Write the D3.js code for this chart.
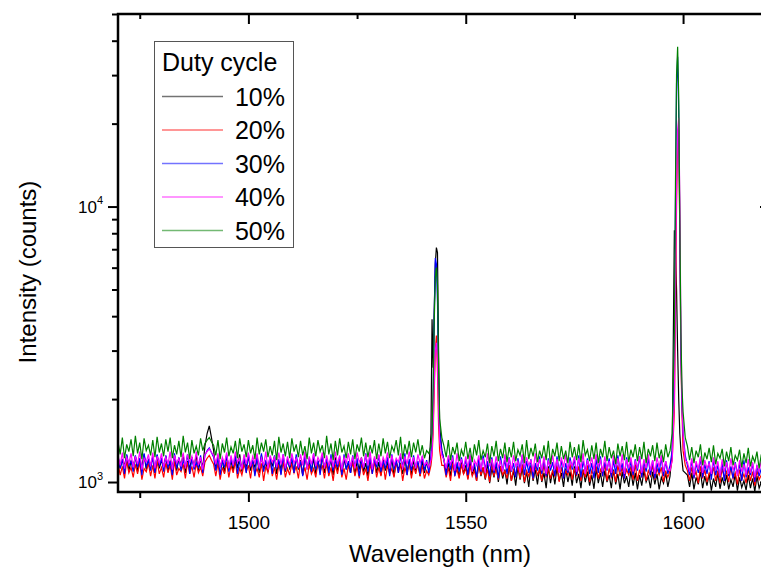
<!DOCTYPE html>
<html>
<head>
<meta charset="utf-8">
<script src="https://cdn.jsdelivr.net/npm/d3@7"></script>
<style>
  body { margin: 0; background: #fff; }
  svg text { font-family: "Liberation Sans", Arial, sans-serif; fill: #000; }
</style>
</head>
<body>
<svg id="chart" width="761" height="573"></svg>
<script>
// wavelength grid (nm): whole nm, half nm and a few quarter nm samples on the peaks
const wholeWavelengths = d3.range(1470, 1621);
const halfWavelengths = d3.range(1470.5, 1620, 1);
const quarterWavelengths = [1542.25, 1542.75, 1543.25, 1543.75, 1598.25, 1598.75, 1599.25, 1599.75];

const dutyCycles = ['10%', '20%', '30%', '40%', '50%'];
const lineColors = ['#000000', '#ff0000', '#0000ff', '#ff00ff', '#008000'];

const xTicksMajor = [1500, 1550, 1600];
const xTicksMinor = [1475, 1525, 1575];
const yTicksMajor = [1000, 10000];
const yTicksMinor = [2000, 3000, 4000, 5000, 6000, 7000, 8000, 9000, 20000, 30000, 40000, 50000];

// intensity (counts) at 1470, 1471 ... 1620 nm
const whole10 = [
    1230, 1200, 1250, 1190, 1240, 1210, 1260, 1200, 1230, 1250,
    1200, 1240, 1190, 1250, 1220, 1260, 1190, 1230, 1250, 1210,
    1350, 1600, 1300, 1240, 1200, 1250, 1190, 1230, 1260, 1200,
    1240, 1190, 1230, 1250, 1180, 1220, 1240, 1190, 1230, 1210,
    1180, 1230, 1200, 1240, 1170, 1220, 1190, 1240, 1180, 1210,
    1230, 1180, 1210, 1170, 1220, 1190, 1230, 1170, 1200, 1220,
    1180, 1210, 1170, 1220, 1190, 1160, 1210, 1180, 1200, 1170,
    1190, 1180, 1500, 6200, 1600, 1200, 1170, 1200, 1150, 1180,
    1150, 1190, 1140, 1170, 1130, 1180, 1120, 1160, 1140, 1110,
    1150, 1100, 1140, 1120, 1090, 1150, 1110, 1130, 1080, 1140,
    1100, 1130, 1080, 1120, 1090, 1140, 1070, 1110, 1090, 1060,
    1120, 1080, 1100, 1060, 1110, 1070, 1090, 1050, 1100, 1080,
    1060, 1100, 1050, 1090, 1070, 1040, 1080, 1050, 8200, 2000,
    1100, 1060, 1080, 1040, 1090, 1050, 1070, 1030, 1080, 1040,
    1060, 1020, 1070, 1040, 1010, 1060, 1030, 1050, 1000, 1040,
    1020
];
const whole20 = [
    1170, 1140, 1190, 1130, 1160, 1180, 1120, 1170, 1150, 1190,
    1130, 1170, 1150, 1190, 1120, 1160, 1180, 1140, 1170, 1130,
    1180, 1250, 1160, 1170, 1130, 1180, 1150, 1190, 1120, 1160,
    1150, 1180, 1120, 1170, 1140, 1190, 1130, 1160, 1180, 1120,
    1170, 1140, 1190, 1130, 1160, 1120, 1180, 1150, 1170, 1130,
    1160, 1190, 1120, 1150, 1180, 1140, 1170, 1120, 1160, 1190,
    1130, 1170, 1150, 1120, 1180, 1160, 1130, 1190, 1140, 1170,
    1150, 1100, 1150, 3000, 1300, 1150, 1130, 1170, 1110, 1160,
    1120, 1150, 1100, 1160, 1130, 1110, 1170, 1120, 1140, 1100,
    1150, 1110, 1140, 1160, 1100, 1130, 1150, 1110, 1160, 1120,
    1100, 1150, 1130, 1100, 1160, 1120, 1140, 1110, 1150, 1100,
    1140, 1110, 1160, 1120, 1100, 1150, 1130, 1110, 1140, 1160,
    1110, 1140, 1100, 1150, 1120, 1130, 1100, 1100, 1800, 19000,
    1300, 1100, 1130, 1090, 1140, 1110, 1080, 1130, 1100, 1120,
    1090, 1130, 1080, 1110, 1070, 1120, 1090, 1100, 1060, 1110,
    1080
];
const whole30 = [
    1240, 1210, 1260, 1190, 1250, 1220, 1270, 1200, 1240, 1260,
    1210, 1250, 1190, 1270, 1230, 1200, 1260, 1220, 1180, 1250,
    1250, 1330, 1230, 1240, 1200, 1260, 1210, 1250, 1190, 1230,
    1260, 1200, 1240, 1270, 1190, 1230, 1250, 1210, 1260, 1200,
    1230, 1260, 1190, 1250, 1220, 1270, 1200, 1240, 1210, 1260,
    1200, 1240, 1260, 1190, 1250, 1220, 1200, 1270, 1230, 1210,
    1250, 1190, 1230, 1260, 1200, 1240, 1270, 1210, 1250, 1190,
    1240, 1200, 1250, 6500, 1500, 1200, 1220, 1250, 1180, 1230,
    1200, 1240, 1170, 1220, 1250, 1190, 1230, 1180, 1240, 1200,
    1230, 1170, 1220, 1250, 1190, 1210, 1170, 1240, 1200, 1220,
    1180, 1240, 1200, 1170, 1230, 1210, 1250, 1190, 1220, 1170,
    1210, 1240, 1180, 1220, 1200, 1250, 1170, 1230, 1190, 1210,
    1240, 1180, 1220, 1200, 1170, 1230, 1190, 1150, 3000, 22000,
    1500, 1150, 1200, 1170, 1220, 1160, 1190, 1210, 1150, 1180,
    1200, 1140, 1180, 1160, 1200, 1130, 1170, 1150, 1120, 1160,
    1140
];
const whole40 = [
    1250, 1280, 1230, 1270, 1240, 1290, 1220, 1260, 1280, 1240,
    1270, 1230, 1290, 1250, 1220, 1280, 1260, 1240, 1290, 1230,
    1260, 1320, 1250, 1270, 1230, 1280, 1250, 1290, 1220, 1260,
    1280, 1240, 1270, 1220, 1290, 1250, 1230, 1280, 1260, 1240,
    1270, 1220, 1260, 1290, 1240, 1270, 1230, 1280, 1250, 1220,
    1290, 1250, 1230, 1270, 1240, 1280, 1220, 1260, 1290, 1240,
    1260, 1230, 1280, 1250, 1220, 1270, 1240, 1290, 1230, 1260,
    1240, 1180, 1200, 3000, 1400, 1200, 1250, 1220, 1270, 1210,
    1240, 1260, 1200, 1250, 1220, 1270, 1210, 1240, 1190, 1260,
    1220, 1250, 1190, 1260, 1230, 1200, 1270, 1210, 1240, 1190,
    1250, 1210, 1230, 1260, 1190, 1240, 1220, 1270, 1200, 1230,
    1260, 1200, 1240, 1190, 1250, 1220, 1260, 1210, 1230, 1190,
    1240, 1210, 1260, 1200, 1230, 1250, 1190, 1100, 2000, 21000,
    1500, 1180, 1220, 1190, 1240, 1200, 1170, 1230, 1190, 1210,
    1180, 1220, 1170, 1200, 1160, 1210, 1180, 1150, 1200, 1160,
    1190
];
const whole50 = [
    1400, 1450, 1370, 1430, 1470, 1390, 1440, 1360, 1420, 1460,
    1380, 1430, 1450, 1360, 1410, 1470, 1390, 1420, 1350, 1440,
    1380, 1450, 1360, 1420, 1380, 1450, 1340, 1410, 1440, 1370,
    1420, 1360, 1450, 1390, 1430, 1350, 1410, 1460, 1380, 1400,
    1440, 1370, 1410, 1350, 1450, 1390, 1420, 1360, 1470, 1380,
    1410, 1440, 1350, 1400, 1430, 1370, 1450, 1390, 1360, 1420,
    1380, 1440, 1400, 1350, 1420, 1460, 1370, 1410, 1390, 1430,
    1360, 1300, 1350, 5500, 1700, 1350, 1420, 1340, 1390, 1310,
    1400, 1330, 1370, 1420, 1300, 1380, 1350, 1410, 1320, 1390,
    1340, 1400, 1310, 1370, 1420, 1330, 1380, 1300, 1360, 1410,
    1320, 1390, 1350, 1300, 1400, 1340, 1370, 1420, 1310, 1360,
    1390, 1320, 1410, 1340, 1300, 1380, 1350, 1400, 1310, 1370,
    1340, 1400, 1320, 1360, 1390, 1310, 1370, 1300, 3500, 25000,
    1800, 1350, 1340, 1300, 1370, 1280, 1330, 1360, 1270, 1320,
    1290, 1340, 1250, 1310, 1270, 1330, 1240, 1290, 1260, 1220,
    1280
];

// intensity (counts) at 1470.5, 1471.5 ... 1619.5 nm
const half10 = [
    1120, 1150, 1100, 1140, 1090, 1130, 1110, 1150, 1080, 1120,
    1140, 1090, 1130, 1100, 1150, 1080, 1120, 1140, 1100, 1130,
    1500, 1450, 1110, 1140, 1080, 1130, 1100, 1120, 1090, 1140,
    1100, 1130, 1080, 1120, 1090, 1140, 1070, 1110, 1090, 1120,
    1080, 1110, 1060, 1120, 1090, 1070, 1110, 1080, 1120, 1060,
    1100, 1070, 1120, 1080, 1060, 1110, 1090, 1050, 1100, 1080,
    1060, 1100, 1080, 1050, 1110, 1070, 1090, 1060, 1100, 1050,
    1080, 1110, 2600, 6800, 1300, 1080, 1050, 1090, 1040, 1070,
    1030, 1060, 1010, 1050, 1020, 990, 1040, 1000, 1030, 980,
    1010, 970, 1020, 990, 960, 1010, 980, 1000, 950, 990,
    980, 1010, 960, 1000, 970, 990, 950, 1000, 970, 945,
    990, 960, 1000, 950, 980, 940, 990, 960, 970, 940,
    970, 1000, 950, 980, 940, 990, 960, 1300, 5000, 1300,
    1080, 960, 940, 980, 950, 970, 930, 960, 945, 970,
    940, 960, 930, 955, 935, 950, 925, 950, 935, 930
];
const half20 = [
    1060, 1030, 1080, 1040, 1070, 1020, 1090, 1050, 1030, 1070,
    1040, 1080, 1020, 1060, 1090, 1030, 1070, 1040, 1080, 1050,
    1220, 1200, 1050, 1020, 1070, 1040, 1080, 1030, 1060, 1090,
    1030, 1070, 1040, 1010, 1080, 1050, 1020, 1070, 1040, 1060,
    1080, 1030, 1060, 1020, 1070, 1040, 1090, 1030, 1050, 1010,
    1070, 1040, 1020, 1080, 1050, 1030, 1060, 1010, 1070, 1040,
    1050, 1020, 1070, 1040, 1080, 1010, 1060, 1030, 1070, 1050,
    1030, 1060, 1500, 2500, 1150, 1040, 1010, 1060, 1030, 1070,
    1020, 1050, 1010, 1060, 1030, 1000, 1050, 1020, 1060, 1030,
    1010, 1060, 1030, 1000, 1050, 1020, 1060, 1010, 1040, 1030,
    1050, 1000, 1040, 1060, 1020, 1050, 1010, 1040, 1000, 1050,
    1030, 1060, 1010, 1040, 1000, 1050, 1030, 1060, 1020, 1010,
    1040, 1010, 1050, 1020, 1060, 1000, 1040, 1200, 10000, 2800,
    1150, 1010, 1040, 990, 1030, 1000, 1050, 1010, 990, 1030,
    1000, 1030, 980, 1020, 990, 1010, 970, 1020, 990, 1000
];
const half30 = [
    1120, 1070, 1150, 1090, 1130, 1060, 1140, 1100, 1080, 1150,
    1090, 1130, 1060, 1120, 1100, 1140, 1070, 1110, 1130, 1080,
    1300, 1280, 1100, 1060, 1130, 1090, 1140, 1070, 1120, 1080,
    1130, 1050, 1110, 1090, 1140, 1070, 1120, 1060, 1100, 1130,
    1080, 1120, 1050, 1130, 1090, 1110, 1060, 1140, 1080, 1100,
    1130, 1060, 1110, 1080, 1140, 1050, 1120, 1090, 1070, 1130,
    1090, 1120, 1050, 1110, 1080, 1140, 1060, 1100, 1120, 1070,
    1100, 1080, 2000, 4500, 1300, 1060, 1110, 1050, 1090, 1120,
    1060, 1100, 1040, 1090, 1120, 1050, 1080, 1030, 1100, 1070,
    1090, 1040, 1110, 1060, 1080, 1030, 1100, 1070, 1050, 1100,
    1050, 1090, 1030, 1080, 1110, 1060, 1040, 1090, 1070, 1030,
    1080, 1050, 1100, 1040, 1070, 1090, 1030, 1080, 1060, 1100,
    1040, 1090, 1060, 1030, 1080, 1050, 1070, 1300, 28000, 3000,
    1250, 1060, 1030, 1080, 1040, 1070, 1020, 1060, 1040, 1010,
    1050, 1030, 1070, 1010, 1040, 1060, 1000, 1050, 1020, 1040
];
const half40 = [
    1150, 1120, 1170, 1130, 1160, 1110, 1180, 1140, 1120, 1170,
    1130, 1160, 1110, 1170, 1140, 1120, 1180, 1130, 1150, 1110,
    1290, 1280, 1160, 1130, 1170, 1120, 1150, 1180, 1110, 1160,
    1140, 1170, 1120, 1150, 1110, 1180, 1130, 1160, 1120, 1150,
    1170, 1130, 1150, 1110, 1160, 1140, 1180, 1120, 1150, 1130,
    1160, 1110, 1170, 1140, 1120, 1180, 1130, 1150, 1110, 1160,
    1130, 1170, 1120, 1150, 1180, 1110, 1160, 1140, 1120, 1170,
    1150, 1130, 1600, 2800, 1250, 1120, 1160, 1100, 1140, 1110,
    1130, 1090, 1150, 1110, 1080, 1140, 1100, 1130, 1090, 1120,
    1100, 1140, 1080, 1120, 1150, 1090, 1130, 1100, 1070, 1140,
    1110, 1080, 1130, 1100, 1140, 1090, 1120, 1070, 1130, 1100,
    1140, 1090, 1110, 1080, 1130, 1100, 1070, 1120, 1090, 1130,
    1080, 1120, 1100, 1070, 1130, 1090, 1110, 1200, 12000, 3500,
    1200, 1090, 1060, 1110, 1080, 1120, 1070, 1100, 1050, 1090,
    1070, 1100, 1050, 1090, 1060, 1080, 1040, 1090, 1060, 1050
];
const half50 = [
    1260, 1220, 1290, 1240, 1270, 1210, 1300, 1250, 1230, 1280,
    1240, 1290, 1220, 1260, 1230, 1280, 1210, 1270, 1250, 1300,
    1420, 1400, 1250, 1210, 1280, 1240, 1270, 1220, 1290, 1230,
    1270, 1210, 1260, 1290, 1230, 1250, 1200, 1280, 1240, 1220,
    1290, 1230, 1250, 1210, 1270, 1240, 1290, 1220, 1260, 1200,
    1250, 1280, 1220, 1260, 1210, 1290, 1240, 1230, 1270, 1210,
    1240, 1270, 1220, 1290, 1250, 1210, 1260, 1230, 1280, 1250,
    1220, 1270, 2200, 5200, 1450, 1230, 1200, 1260, 1190, 1240,
    1210, 1180, 1250, 1200, 1230, 1170, 1240, 1190, 1220, 1180,
    1230, 1190, 1250, 1170, 1210, 1240, 1180, 1220, 1200, 1160,
    1240, 1190, 1210, 1170, 1230, 1200, 1180, 1250, 1190, 1210,
    1170, 1230, 1190, 1220, 1160, 1240, 1200, 1180, 1230, 1190,
    1210, 1170, 1240, 1190, 1220, 1180, 1230, 1500, 30000, 3500,
    1450, 1200, 1170, 1230, 1150, 1210, 1180, 1160, 1220, 1140,
    1190, 1150, 1200, 1130, 1170, 1140, 1180, 1120, 1160, 1110
];

// intensity (counts) at the quarter nm peak samples
const quarter10 = [3900, 4200, 7100, 3000, 7000, 3000, 1500, 1200];
const quarter20 = [1250, 2100, 3400, 1600, 4000, 17000, 8000, 1800];
const quarter30 = [1400, 4000, 6200, 2200, 10000, 35000, 8000, 1900];
const quarter40 = [1300, 2300, 3200, 1900, 5000, 19000, 11000, 2000];
const quarter50 = [1500, 3800, 6000, 2600, 12000, 38000, 9000, 2200];

const wholeSets = [whole10, whole20, whole30, whole40, whole50];
const halfSets = [half10, half20, half30, half40, half50];
const quarterSets = [quarter10, quarter20, quarter30, quarter40, quarter50];

const plot = { left: 118, right: 770, top: 14, bottom: 492 };

const svg = d3.select('#chart');

const x = d3.scaleLinear().domain([1470, 1620]).range([plot.left, plot.right]);
const y = d3.scaleLog().domain([920, 50000]).range([plot.bottom, plot.top]);

function buildSeries(whole, half, quarter) {
    let pts = wholeWavelengths.map((w, i) => ({ w: w, v: whole[i] }))
        .concat(halfWavelengths.map((w, i) => ({ w: w, v: half[i] })))
        .concat(quarterWavelengths.map((w, i) => ({ w: w, v: quarter[i] })));
    return pts.sort((a, b) => a.w - b.w);
}

const series = dutyCycles.map((name, i) => ({
    name: name,
    color: lineColors[i],
    points: buildSeries(wholeSets[i], halfSets[i], quarterSets[i])
}));

svg.append('defs').append('clipPath')
    .attr('id', 'plotClip')
    .append('rect')
    .attr('x', plot.left)
    .attr('y', plot.top)
    .attr('width', plot.right - plot.left)
    .attr('height', plot.bottom - plot.top);

const line = d3.line()
    .x(d => x(d.w))
    .y(d => y(d.v));

svg.append('g')
    .attr('clip-path', 'url(#plotClip)')
    .selectAll('path').data(series)
    .join('path')
    .attr('d', d => line(d.points))
    .attr('fill', 'none')
    .attr('stroke', d => d.color)
    .attr('stroke-width', 1.2);

// axes: outward ticks on bottom/left, inward mirror ticks on top/right
function styleAxis(g) {
    g.select('.domain').remove();
    g.selectAll('line').attr('stroke', '#000').attr('stroke-width', 2);
}

svg.append('g')
    .attr('transform', 'translate(0,' + plot.bottom + ')')
    .call(d3.axisBottom(x).tickValues(xTicksMajor).tickSize(10).tickPadding(14).tickFormat(d3.format('d')))
    .call(styleAxis)
    .selectAll('text')
    .attr('font-size', 19)
    .style('font-family', '"Liberation Sans", Arial, sans-serif');

svg.append('g')
    .attr('transform', 'translate(0,' + plot.bottom + ')')
    .call(d3.axisBottom(x).tickValues(xTicksMinor).tickSize(6).tickFormat(''))
    .call(styleAxis);

svg.append('g')
    .attr('transform', 'translate(0,' + plot.top + ')')
    .call(d3.axisBottom(x).tickValues(xTicksMajor).tickSize(10).tickFormat(''))
    .call(styleAxis);

svg.append('g')
    .attr('transform', 'translate(0,' + plot.top + ')')
    .call(d3.axisBottom(x).tickValues(xTicksMinor).tickSize(5).tickFormat(''))
    .call(styleAxis);

const yMajor = svg.append('g')
    .attr('transform', 'translate(' + plot.left + ',0)')
    .call(d3.axisLeft(y).tickValues(yTicksMajor).tickSize(10).tickFormat(''))
    .call(styleAxis);

yMajor.selectAll('.tick').append('text')
    .attr('x', -15)
    .attr('dy', '0.32em')
    .attr('text-anchor', 'end')
    .attr('font-size', 17)
    .each(function (d) {
        const t = d3.select(this);
        t.append('tspan').text('10');
        t.append('tspan')
            .attr('font-size', 11)
            .attr('dy', '-0.75em')
            .text(Math.round(Math.log10(d)));
    });

svg.append('g')
    .attr('transform', 'translate(' + plot.left + ',0)')
    .call(d3.axisLeft(y).tickValues(yTicksMinor).tickSize(6).tickFormat(''))
    .call(styleAxis);

svg.append('g')
    .attr('transform', 'translate(' + plot.right + ',0)')
    .call(d3.axisLeft(y).tickValues(yTicksMajor).tickSize(10).tickFormat(''))
    .call(styleAxis);

svg.append('g')
    .attr('transform', 'translate(' + plot.right + ',0)')
    .call(d3.axisLeft(y).tickValues(yTicksMinor).tickSize(5).tickFormat(''))
    .call(styleAxis);

// frame
svg.append('rect')
    .attr('x', plot.left)
    .attr('y', plot.top)
    .attr('width', plot.right - plot.left)
    .attr('height', plot.bottom - plot.top)
    .attr('fill', 'none')
    .attr('stroke', '#000')
    .attr('stroke-width', 2.5);

// axis titles
svg.append('text')
    .attr('x', (plot.left + plot.right) / 2 - 4)
    .attr('y', 562)
    .attr('text-anchor', 'middle')
    .attr('font-size', 24)
    .text('Wavelength (nm)');

svg.append('text')
    .attr('transform', 'translate(36,' + ((plot.top + plot.bottom) / 2 + 19) + ') rotate(-90)')
    .attr('text-anchor', 'middle')
    .attr('font-size', 24)
    .text('Intensity (counts)');

// legend
const legend = svg.append('g').attr('transform', 'translate(154,41)');

legend.append('rect')
    .attr('x', 0.5)
    .attr('y', 0.5)
    .attr('width', 139)
    .attr('height', 206)
    .attr('fill', '#fff')
    .attr('stroke', '#555')
    .attr('stroke-width', 1);

legend.append('text')
    .attr('x', 8)
    .attr('y', 30)
    .attr('font-size', 25)
    .text('Duty cycle');

const legendRows = legend.selectAll('g.row').data(series)
    .join('g')
    .attr('class', 'row')
    .attr('transform', (d, i) => 'translate(0,' + (55.5 + i * 33.5) + ')');

legendRows.append('line')
    .attr('x1', 8)
    .attr('x2', 69)
    .attr('stroke', d => d.color)
    .attr('stroke-opacity', 0.55)
    .attr('stroke-width', 1.5);

legendRows.append('text')
    .attr('x', 131)
    .attr('dy', '0.36em')
    .attr('text-anchor', 'end')
    .attr('font-size', 25)
    .text(d => d.name);
</script>
</body>
</html>
